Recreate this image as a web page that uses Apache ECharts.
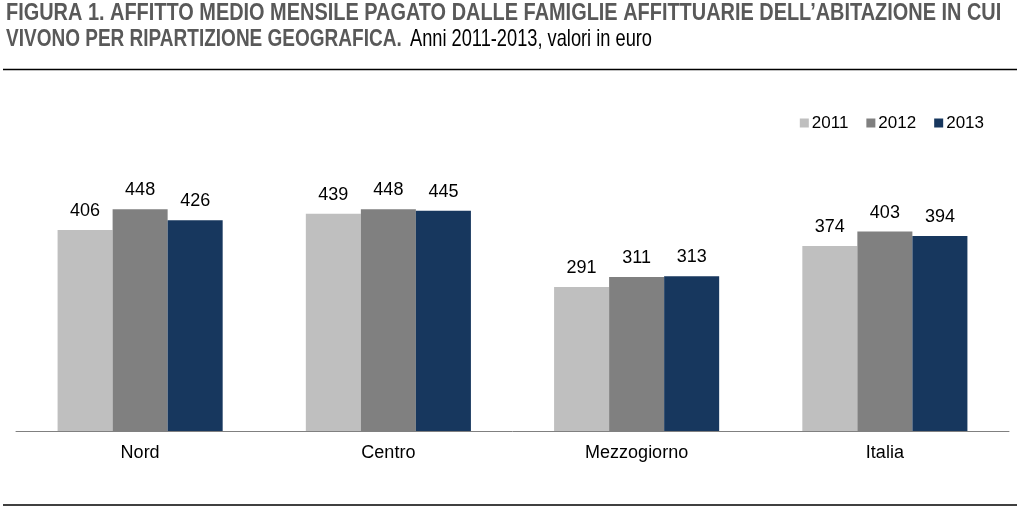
<!DOCTYPE html>
<html><head><meta charset="utf-8">
<script src="https://cdn.jsdelivr.net/npm/echarts@6/dist/echarts.min.js"></script>
<style>html,body{margin:0;padding:0;background:#fff}#c{width:1024px;height:509px}</style>
</head><body><div id="c"></div>
<script>
const categories = ['Nord', 'Centro', 'Mezzogiorno', 'Italia'];
const seriesNames = ['2011', '2012', '2013'];
const values2011 = [406, 439, 291, 374];
const values2012 = [448, 448, 311, 403];
const values2013 = [426, 445, 313, 394];
const colors = ['#BFBFBF', '#808080', '#17375E'];
const titleLine1 = 'FIGURA 1. AFFITTO MEDIO MENSILE PAGATO DALLE FAMIGLIE AFFITTUARIE DELL\u2019ABITAZIONE IN CUI';
const titleLine2Bold = 'VIVONO PER RIPARTIZIONE GEOGRAFICA.';
const titleLine2Normal = 'Anni 2011-2013, valori in euro';

const chart = echarts.init(document.getElementById('c'));
const mk = (name, data, color) => ({
  name, type: 'bar', data, barGap: '0%', barCategoryGap: '33.5%',
  itemStyle: { color },
  label: { show: true, position: 'top', distance: 10, color: '#000',
    fontFamily: 'Liberation Sans', fontSize: 18 }
});
const boldStyle = { fontFamily: 'Liberation Sans', fontWeight: 'bold', fontSize: 24, fill: '#595959', verticalAlign: 'top' };
chart.setOption({
  animation: false,
  legend: {
    right: 35, top: 109.5, itemWidth: 9, itemHeight: 9, itemGap: 18,
    icon: 'rect',
    textStyle: { fontFamily: 'Liberation Sans', fontSize: 17, color: '#000', padding: [0,0,0,-2] },
    data: seriesNames
  },
  grid: { left: 16, right: 15, top: 183.6, bottom: 78, containLabel: false },
  xAxis: {
    type: 'category', data: categories,
    axisLine: { lineStyle: { color: '#808080', width: 1 } },
    axisTick: { show: false },
    axisLabel: { color: '#000', fontFamily: 'Liberation Sans', fontSize: 18, margin: 13 }
  },
  yAxis: { type: 'value', min: 0, max: 500, show: false, splitLine: { show: false } },
  graphic: [
    { type: 'text', x: 6, y: 1, scaleX: 0.83, style: Object.assign({ text: titleLine1 }, boldStyle) },
    { type: 'text', x: 6, y: 27.5, scaleX: 0.792, style: Object.assign({ text: titleLine2Bold }, boldStyle) },
    { type: 'text', x: 410, y: 27.5, scaleX: 0.76, style: { text: titleLine2Normal, fontFamily: 'Liberation Sans', fontSize: 24, fill: '#000', verticalAlign: 'top' } },
    { type: 'line', shape: { x1: 3, y1: 69.5, x2: 1017, y2: 69.5 }, style: { stroke: '#000', lineWidth: 1.5 } },
    { type: 'line', shape: { x1: 3, y1: 505, x2: 1017, y2: 505 }, style: { stroke: '#000', lineWidth: 1.5 } }
  ],
  series: [
    mk(seriesNames[0], values2011, colors[0]),
    mk(seriesNames[1], values2012, colors[1]),
    mk(seriesNames[2], values2013, colors[2])
  ]
});
</script></body></html>
